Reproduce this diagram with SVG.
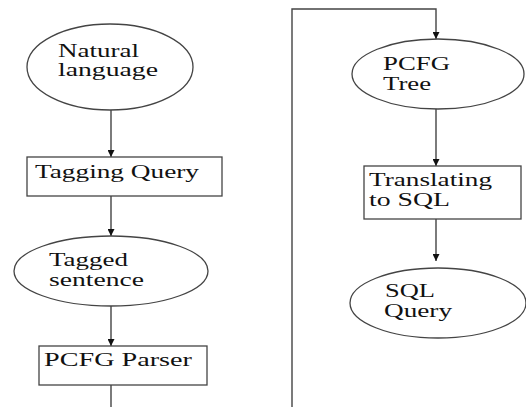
<svg xmlns="http://www.w3.org/2000/svg" width="526" height="407" viewBox="0 0 526 407">
<style>
.shape{fill:#fff;stroke:#444;stroke-width:1.3}
.edge{fill:none;stroke:#444;stroke-width:1.4}
text{font-family:"Liberation Serif","Times New Roman",serif;font-size:18px;fill:#111}
</style>
<defs>
<marker id="arr" viewBox="0 0 10 10" refX="10" refY="5" markerWidth="7" markerHeight="7" markerUnits="userSpaceOnUse" orient="auto">
<path d="M0,0 L10,5 L0,10 Z" fill="#111"/>
</marker>
</defs>
<rect width="526" height="407" fill="#fff"/>
<g id="connectors">
<line class="edge" x1="111" y1="110" x2="111" y2="157" marker-end="url(#arr)"/>
<line class="edge" x1="111" y1="196" x2="111" y2="236" marker-end="url(#arr)"/>
<line class="edge" x1="111" y1="306" x2="111" y2="346" marker-end="url(#arr)"/>
<polyline class="edge" points="111,385 111,407"/>
<polyline class="edge" points="292,407 292,9 436,9 436,39" marker-end="url(#arr)"/>
<line class="edge" x1="436" y1="109" x2="436" y2="166" marker-end="url(#arr)"/>
<line class="edge" x1="436" y1="219" x2="436" y2="261" marker-end="url(#arr)"/>
</g>
<g id="natural-language">
<ellipse class="shape" cx="110" cy="67" rx="83" ry="43"/>
<text x="58" y="57" textLength="81" lengthAdjust="spacingAndGlyphs">Natural</text>
<text x="58" y="76" textLength="100" lengthAdjust="spacingAndGlyphs">language</text>
</g>
<g id="tagging-query">
<rect class="shape" x="27" y="157" width="195" height="39"/>
<text x="35" y="178" textLength="164" lengthAdjust="spacingAndGlyphs">Tagging Query</text>
</g>
<g id="tagged-sentence">
<ellipse class="shape" cx="111" cy="271" rx="97" ry="35"/>
<text x="49" y="266" textLength="79" lengthAdjust="spacingAndGlyphs">Tagged</text>
<text x="49" y="286" textLength="95" lengthAdjust="spacingAndGlyphs">sentence</text>
</g>
<g id="pcfg-parser">
<rect class="shape" x="39" y="346" width="168" height="39"/>
<text x="44" y="366" textLength="148" lengthAdjust="spacingAndGlyphs">PCFG Parser</text>
</g>
<g id="pcfg-tree">
<ellipse class="shape" cx="438" cy="74" rx="86" ry="35"/>
<text x="383" y="70" textLength="67" lengthAdjust="spacingAndGlyphs">PCFG</text>
<text x="383" y="90" textLength="48" lengthAdjust="spacingAndGlyphs">Tree</text>
</g>
<g id="translating-to-sql">
<rect class="shape" x="364" y="166" width="157" height="53"/>
<text x="369" y="186" textLength="123" lengthAdjust="spacingAndGlyphs">Translating</text>
<text x="369" y="206" textLength="81" lengthAdjust="spacingAndGlyphs">to SQL</text>
</g>
<g id="sql-query">
<ellipse class="shape" cx="438" cy="303" rx="88" ry="35"/>
<text x="385" y="297" textLength="50" lengthAdjust="spacingAndGlyphs">SQL</text>
<text x="384" y="317" textLength="68" lengthAdjust="spacingAndGlyphs">Query</text>
</g>
</svg>
